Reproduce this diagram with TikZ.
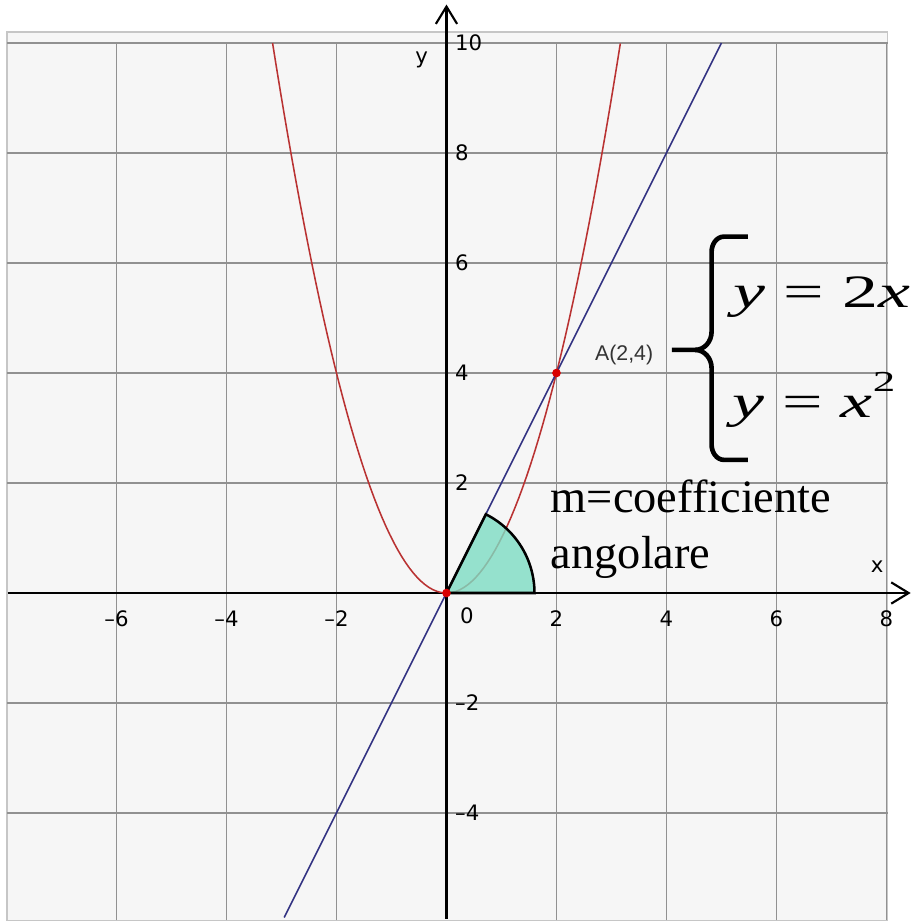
\documentclass[tikz,border=0pt]{standalone}
\usepackage{fontspec}
\setmainfont{Liberation Serif}
\newfontfamily\ticksfont{DejaVu Sans}
\newfontfamily\labelfont{Liberation Sans}
\usetikzlibrary{arrows.meta}
\definecolor{gridbg}{RGB}{246,246,246}
\definecolor{gridgray}{RGB}{145,145,145}
\definecolor{parabred}{RGB}{185,50,50}
\definecolor{linenavy}{RGB}{50,50,130}
\definecolor{anglegreen}{RGB}{125,220,195}

\begin{document}
\begin{tikzpicture}[x=1cm, y=1cm,
    gridline/.style={gridgray, line width=1pt},
    axisline/.style={black, line width=1.1pt, -{Straight Barb[length=9pt,width=11pt,line width=1.1pt]}},
    ticklabel/.style={font=\ticksfont\fontsize{11}{11}\selectfont, inner sep=0pt},
    eqtext/.style={font=\fontsize{24}{24}\selectfont, inner sep=0pt},
    dot/.style={circle, fill=red!85!black, inner sep=0pt, minimum size=4.5pt}]
\useasboundingbox (-8.118,-6) rectangle (8.445,10.782);
\filldraw[fill=gridbg, draw=gray!45, line width=0.6pt] (-7.99,-5.95) rectangle (8.02,10.2);
\foreach \gx in {-6,-4,-2,2,4,6,8}
  \draw[gridline] (\gx,-5.95) -- (\gx,10);
\foreach \gy in {-4,-2,2,4,6,8,10}
  \draw[gridline] (-7.99,\gy) -- (8.02,\gy);

\foreach \gx/\gt [count=\i] in {-6/–6,-4/–4,-2/–2,2/2,4/4,6/6,8/8}
  \node[ticklabel] (xtick\i) at (\gx,-0.47) {\gt};
\node[ticklabel] (xtick0) at (0.37,-0.42) {0};
\foreach \gy/\gt [count=\i] in {-4/–4,-2/–2,2/2,4/4,6/6,8/8,10/10}
  \node[ticklabel, anchor=west] (ytick\i) at (0.15,\gy) {\gt};

\draw[axisline] (-7.98,0) -- (8.44,0);
\draw[axisline] (0,-5.92) -- (0,10.7);
\node[ticklabel] (xname) at (7.83,0.47) {x};
\node[ticklabel] (yname) at (-0.45,9.69) {y};

\draw[parabred, line width=0.8pt, domain=-3.162:3.162, samples=90] plot (\x,{\x*\x});
\draw[linenavy, line width=0.8pt] (-2.95,-5.9) -- (5,10);

\filldraw[fill=anglegreen, fill opacity=0.8, draw=black, line width=1.3pt]
  (0,0) -- (1.6,0) arc[start angle=0, end angle=63.43, radius=1.6] -- cycle;

\node[dot] (origin) at (0,0) {};
\node[dot] (pa) at (2,4) {};
\node[font=\labelfont\fontsize{11}{11}\selectfont, text=black!80] (alabel) at (3.23,4.33) {A(2,4)};

\draw[line width=2.4pt] (5.48,6.48) -- (5.05,6.48) to[out=180,in=90] (4.82,6.2) -- (4.82,4.75) to[out=-90,in=0] (4.52,4.42) -- (4.1,4.42);
\draw[line width=2.4pt] (4.52,4.42) to[out=0,in=90] (4.82,4.09) -- (4.82,2.7) to[out=-90,in=180] (5.05,2.42) -- (5.48,2.42);

\node[eqtext, xscale=1.55, anchor=base west] (eqline) at (5.21,5.2) {\textit{y} = 2\textit{x}};
\node[eqtext, xscale=1.55, anchor=base west] (eqpar) at (5.19,3.2) {\textit{y} = \textit{x}\raisebox{0.54em}{\fontsize{15}{15}\selectfont 2}};

\node[eqtext, anchor=base west] (coef) at (1.89,1.47) {m=coefficiente};
\node[eqtext, anchor=base west] (ango) at (1.89,0.45) {angolare};
\end{tikzpicture}
\end{document}
